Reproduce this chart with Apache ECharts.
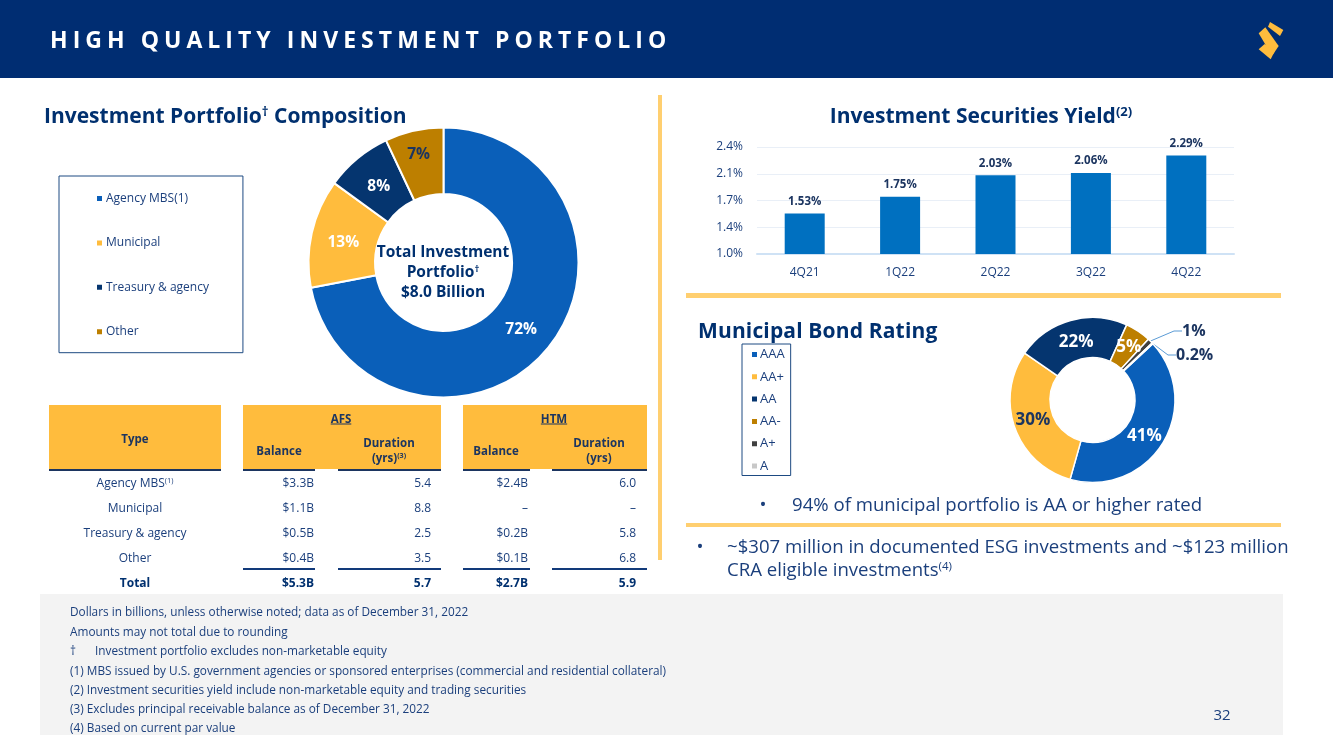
<!DOCTYPE html>
<html>
<head>
<meta charset="utf-8">
<title>High Quality Investment Portfolio</title>
<script src="https://cdn.jsdelivr.net/npm/echarts@6/dist/echarts.min.js"></script>
<style>
  html, body { margin: 0; padding: 0; background: #fff; }
  #page { position: relative; width: 1333px; height: 749px; overflow: hidden; font-family: "Open Sans", sans-serif; color: #1b3f7c; }
  #chart { position: absolute; left: 0; top: 0; width: 1333px; height: 749px; }
  .box { position: absolute; }
  .t { position: absolute; white-space: nowrap; line-height: 1.1; }
  .title { font-size: 21px; font-weight: 700; color: #00306f; }
  sup { font-size: 62%; line-height: 0; vertical-align: baseline; position: relative; top: -0.5em; }
</style>
</head>
<body>
<div id="page"><div id="chart"></div></div>
<script>
// ── Data ──
const portfolioNames = ['Agency MBS(1)', 'Municipal', 'Treasury & agency', 'Other'];
const portfolioValues = [72, 13, 8, 7];

const yieldQuarters = ['4Q21', '1Q22', '2Q22', '3Q22', '4Q22'];
const yieldValues = [1.53, 1.75, 2.03, 2.06, 2.29];
const yieldTicks = [1.0, 1.35, 1.7, 2.05, 2.4];
const yieldTickLabels = ['1.0%', '1.4%', '1.7%', '2.1%', '2.4%'];

const ratingNames = ['AAA', 'AA+', 'AA', 'AA-', 'A+', 'A'];
const ratingValues = [41, 30, 22, 5, 1, 0.2];

const tableTypes = ['Agency MBS<sup>(1)</sup>', 'Municipal', 'Treasury &amp; agency', 'Other', 'Total'];
const afsBalance = ['$3.3B', '$1.1B', '$0.5B', '$0.4B', '$5.3B'];
const afsDuration = ['5.4', '8.8', '2.5', '3.5', '5.7'];
const htmBalance = ['$2.4B', '–', '$0.2B', '$0.1B', '$2.7B'];
const htmDuration = ['6.0', '–', '5.8', '6.8', '5.9'];

const footnotes = [
  'Dollars in billions, unless otherwise noted; data as of December 31, 2022',
  'Amounts may not total due to rounding',
  '†<span style="display:inline-block;width:19px"></span>Investment portfolio excludes non-marketable equity',
  '(1) MBS issued by U.S. government agencies or sponsored enterprises (commercial and residential collateral)',
  '(2) Investment securities yield include non-marketable equity and trading securities',
  '(3) Excludes principal receivable balance as of December 31, 2022',
  '(4) Based on current par value',
];

const BLUE = '#0a5fb9', GOLD = '#ffbc3d', NAVY = '#05356f', BROWN = '#bd7f00', INK = '#1b3f7c';
const page = document.getElementById('page');

// small helpers for the slide furniture around the charts
function box(x, y, w, h, color) {
  const d = document.createElement('div');
  d.className = 'box';
  d.style.cssText = `left:${x}px;top:${y}px;width:${w}px;height:${h}px;background:${color}`;
  page.insertBefore(d, page.firstChild);
}
function put(html, x, y, align, style) {
  const d = document.createElement('div');
  d.className = 't';
  const tx = align === 'c' ? '-50%' : align === 'r' ? '-100%' : '0';
  d.style.cssText = `left:${x}px;top:${y}px;transform:translate(${tx},-50%);${style || ''}`;
  d.innerHTML = html;
  page.appendChild(d);
}

// ── Frame ──
box(0, 0, 1333, 78, '#002d72');
box(658, 95, 4, 465, '#ffcf70');
box(686, 293, 595, 5, '#ffcf70');
box(686, 523, 595, 4, '#ffcf70');
box(40, 594, 1243, 141, '#f3f3f3');

put('HIGH QUALITY INVESTMENT PORTFOLIO', 50, 40, 'l', 'color:#fff;font-size:23px;font-weight:700;letter-spacing:5.04px');
const logo = document.createElementNS('http://www.w3.org/2000/svg', 'svg');
logo.setAttribute('viewBox', '0 0 210 180');
logo.style.cssText = 'position:absolute;left:1230px;top:10px;width:70px;height:60px';
logo.innerHTML = '<g fill="#ffbc3d">'
  + '<polygon points="120,36 160,60 150,78 114,50"/>'
  + '<polygon points="86,70 106,52 146,108 128,135 118,124"/>'
  + '<polygon points="86,118 104,102 134,124 122,148"/></g>';
page.appendChild(logo);

put('Investment Portfolio<sup>†</sup> Composition', 44, 115.5, 'l', '');
page.lastChild.classList.add('title');
put('Investment Securities Yield<sup>(2)</sup>', 981, 115.5, 'c', '');
page.lastChild.classList.add('title');
put('Municipal Bond Rating', 698, 330.5, 'l', 'letter-spacing:0.15px');
page.lastChild.classList.add('title');

// ── Table ──
box(49, 405, 172, 64, GOLD);
box(243, 405, 198, 64, GOLD);
box(463, 405, 184, 64, GOLD);
const rule = '#1c3560';
[[49, 172], [243, 72], [338, 103], [463, 67], [552, 95]].forEach(c => box(c[0], 469, c[1], 2, rule));
[[243, 72], [338, 103], [463, 67], [552, 95]].forEach(c => box(c[0], 568, c[1], 2, '#123a7a'));

const headStyle = 'font-size:11.5px;font-weight:700;color:#1c3560;text-align:center;line-height:15px';
put('Type', 135, 438, 'c', headStyle);
put('<u>AFS</u>', 341, 418, 'c', headStyle);
put('<u>HTM</u>', 554, 418, 'c', headStyle);
put('Balance', 279, 450, 'c', headStyle);
put('Balance', 496, 450, 'c', headStyle);
put('Duration<br>(yrs)<sup>(3)</sup>', 389, 450, 'c', headStyle);
put('Duration<br>(yrs)', 599, 450, 'c', headStyle);

const rowY = [483, 508, 533, 558, 583];
rowY.forEach((y, i) => {
  const s = 'font-size:12px;' + (i === 4 ? 'font-weight:700;color:#00306f' : 'color:' + INK);
  put(tableTypes[i], 135, y, 'c', s);
  put(afsBalance[i], 314, y, 'r', s);
  put(afsDuration[i], 431, y, 'r', s);
  put(htmBalance[i], 528, y, 'r', s);
  put(htmDuration[i], 636, y, 'r', s);
});

// ── Text blocks ──
const bodyStyle = 'font-size:18.6px;color:' + INK;
put('•', 763, 504, 'c', bodyStyle);
put('94% of municipal portfolio is AA or higher rated', 792, 504, 'l', bodyStyle);
put('•', 700, 546, 'c', bodyStyle);
put('~$307 million in documented ESG investments and ~$123 million', 727, 546, 'l', bodyStyle);
put('CRA eligible investments<sup>(4)</sup>', 727, 569, 'l', bodyStyle);

put('Total Investment<br>Portfolio<sup>†</sup><br>$8.0 Billion', 443, 271, 'c',
  'font-size:15.5px;font-weight:700;color:#00306f;text-align:center;line-height:20px');

const noteY = [611, 631, 650, 670, 689, 708, 727];
footnotes.forEach((n, i) => put(n, 70, noteY[i], 'l', 'font-size:11.8px;color:' + INK));
put('32', 1222, 714, 'c', 'font-size:15px;color:' + INK);

// ── Charts ──
const chart = echarts.init(document.getElementById('chart'), null, { renderer: 'canvas' });

function pieData(names, values, colors) {
  return names.map((n, i) => ({ name: n, value: values[i], itemStyle: { color: colors[i] } }));
}
const ratingColors = [BLUE, GOLD, NAVY, BROWN, '#404040', '#c8c8c8'];
const portfolioData = pieData(portfolioNames, portfolioValues, [BLUE, GOLD, NAVY, BROWN]);
portfolioData[3].label = { color: '#1c3560' };

const ratingData = pieData(ratingNames, ratingValues, ratingColors);
ratingData[1].label = { color: '#1c3560' };
[4, 5].forEach(i => {
  ratingData[i].label = { position: 'outside', color: '#1c3560', fontSize: 16 };
  ratingData[i].labelLine = { show: true, length: 8, length2: 8, lineStyle: { color: '#5b9bd5', width: 1 } };
});

// nudges so the wedge labels sit where the slide has them
const portfolioNudge = [[-3, 0], [2, 3], [2, 5], [-2, -6]];
const ratingNudge = [[-4, 2], [2, -2], [1, 5], [0, 2]];

chart.setOption({
  animation: false,
  backgroundColor: 'transparent',
  grid: { left: 757, top: 147, width: 477, height: 107 },
  xAxis: {
    type: 'category', data: yieldQuarters,
    axisTick: { show: false },
    axisLine: { lineStyle: { color: '#cfe2f5', width: 2 } },
    axisLabel: { color: INK, fontSize: 12, margin: 13, fontFamily: 'Open Sans' },
  },
  yAxis: {
    type: 'value', min: 1.0, max: 2.4,
    axisLine: { show: false },
    axisTick: { show: false, customValues: yieldTicks },
    splitLine: { show: true, lineStyle: { color: '#e9eff7', width: 1 } },
    axisLabel: {
      color: INK, fontSize: 12, margin: 14, fontFamily: 'Open Sans', padding: [2, 0, 0, 0],
      customValues: yieldTicks,
      formatter: v => yieldTickLabels[yieldTicks.indexOf(v)],
    },
  },
  legend: [
    {
      orient: 'vertical', left: 59, top: 176,
      data: portfolioNames,
      icon: 'rect', itemWidth: 7, itemHeight: 7, itemGap: 32.4,
      padding: [16.5, 34, 15, 36],
      borderColor: '#1d4a82', borderWidth: 1,
      selectedMode: false,
      textStyle: { color: INK, fontSize: 12, fontFamily: 'Open Sans', padding: [0, 0, 0, -2] },
    },
    {
      orient: 'vertical', left: 742, top: 344,
      data: ratingNames,
      icon: 'rect', itemWidth: 7, itemHeight: 7, itemGap: 9.3,
      padding: [4, 6, 3, 8],
      borderColor: '#1d4a82', borderWidth: 1,
      selectedMode: false,
      textStyle: { color: INK, fontSize: 13, fontFamily: 'Open Sans', padding: [0, 0, 0, -3] },
    },
  ],
  series: [
    {
      type: 'bar', data: yieldValues, barWidth: 40,
      itemStyle: { color: '#0070c0' },
      label: {
        show: true, position: 'top', distance: 6, color: '#1c3560',
        fontSize: 11.5, fontWeight: 700, fontFamily: 'Open Sans',
        formatter: p => p.value.toFixed(2) + '%',
      },
    },
    {
      type: 'pie', center: [443.5, 262.5], radius: [68.5, 135], startAngle: 90,
      data: portfolioData,
      itemStyle: { borderColor: '#fff', borderWidth: 2 },
      label: { position: 'inside', formatter: '{c}%', color: '#fff', fontSize: 15.5, fontWeight: 700, fontFamily: 'Open Sans' },
      labelLine: { show: false },
      labelLayout: p => ({ dx: portfolioNudge[p.dataIndex][0], dy: portfolioNudge[p.dataIndex][1] }),
    },
    {
      type: 'pie', center: [1092.5, 400], radius: [42.5, 82.5], startAngle: 43,
      data: ratingData,
      itemStyle: { borderColor: '#fff', borderWidth: 1.5 },
      label: { position: 'inside', formatter: '{c}%', color: '#fff', fontSize: 17, fontWeight: 700, fontFamily: 'Open Sans' },
      labelLayout: function (p) {
        if (p.dataIndex === 4) return { x: 1182, y: 331, align: 'left', verticalAlign: 'middle' };
        if (p.dataIndex === 5) return { x: 1176, y: 355, align: 'left', verticalAlign: 'middle' };
        return { dx: ratingNudge[p.dataIndex][0], dy: ratingNudge[p.dataIndex][1] };
      },
    },
  ],
});
</script>
</body>
</html>
